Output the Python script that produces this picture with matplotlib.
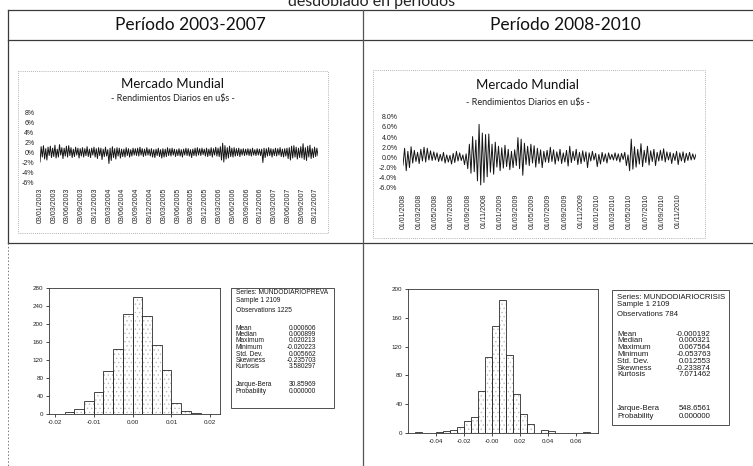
import numpy as np
import matplotlib
matplotlib.use("Agg")
import matplotlib.pyplot as plt
from matplotlib.patches import Rectangle
from matplotlib.ticker import FuncFormatter

W, H = 753, 466
plt.rcParams["hatch.linewidth"] = 0.45

# daily returns in u$s (%), 2003-2007, roughly 12 readings per quarter
ret_pre = [
    -1.9, 1.2, -0.9, 1.4, -1.3, 0.8, -1.5, 1.1, -0.6, 1.3, -1.0, 0.9,
    -0.8, 1.5, -1.1, 0.7, -0.9, 1.6, -0.5, 1.0, -1.2, 0.9, -0.7, 1.3,
    -0.9, 1.4, -0.6, 1.0, -1.0, 0.7, -0.8, 1.1, -0.5, 0.9, -1.1, 0.8,
    -0.7, 1.0, -0.9, 0.8, -0.6, 1.2, -0.8, 0.7, -1.0, 0.9, -0.5, 1.1,
    -0.9, 0.8, -1.2, 1.0, -0.6, 0.9, -1.4, 0.7, -0.8, 1.1, -0.7, 0.6,
    -2.2, 0.9, -1.6, 1.2, -1.0, 0.8, -1.3, 1.0, -0.7, 0.9, -1.1, 0.7,
    -0.8, 0.7, -0.9, 1.0, -0.6, 0.8, -0.9, 0.6, -0.7, 0.9, -0.5, 0.8,
    -0.6, 0.9, -0.7, 1.1, -0.5, 0.8, -0.8, 0.7, -0.6, 1.0, -0.5, 0.7,
    -0.7, 0.8, -0.9, 0.6, -1.0, 0.7, -0.6, 0.9, -0.8, 0.6, -1.1, 0.8,
    -0.9, 0.7, -0.8, 1.0, -0.6, 0.8, -0.7, 0.9, -0.5, 0.7, -0.8, 0.6,
    -0.6, 0.8, -0.7, 0.6, -0.9, 0.7, -0.5, 0.9, -0.6, 0.8, -0.7, 0.6,
    -1.0, 0.7, -0.6, 0.9, -0.7, 1.0, -0.5, 0.8, -0.6, 0.9, -0.4, 0.7,
    -0.7, 0.9, -0.8, 0.7, -0.6, 1.0, -0.9, 0.8, -0.5, 1.1, -0.7, 0.9,
    -0.8, 1.2, -1.5, 1.9, -1.9, 1.4, -1.3, 1.0, -1.1, 1.3, -0.8, 0.9,
    -0.9, 1.0, -0.7, 0.8, -0.6, 0.9, -0.8, 0.7, -0.5, 0.8, -0.6, 0.7,
    -0.5, 0.8, -0.6, 0.7, -0.7, 0.9, -0.5, 0.6, -0.6, 0.8, -0.5, 0.7,
    -0.6, 0.7, -2.0, 0.9, -1.0, 0.8, -0.7, 1.0, -0.6, 0.8, -0.9, 0.7,
    -0.6, 0.9, -0.7, 0.8, -0.5, 1.0, -0.8, 0.7, -0.9, 0.8, -0.7, 0.9,
    -1.2, 1.0, -1.5, 1.3, -1.1, 1.4, -0.9, 1.1, -1.3, 0.9, -1.0, 1.2,
    -1.1, 1.8, -1.4, 1.0, -1.6, 1.3, -0.9, 1.5, -1.2, 0.8, -1.0, 1.1,
    -0.8, 0.9, -0.6,
]
dates_pre = [
    "03/01/2003", "03/03/2003", "03/06/2003", "03/09/2003", "03/12/2003",
    "03/03/2004", "03/06/2004", "03/09/2004", "03/12/2004", "03/03/2005",
    "03/06/2005", "03/09/2005", "03/12/2005", "03/03/2006", "03/06/2006",
    "03/09/2006", "03/12/2006", "03/03/2007", "03/06/2007", "03/09/2007",
    "03/12/2007",
]

# daily returns in u$s (%), 2008-2010, roughly 10 readings per two months
ret_crisis = [
    -1.5, 1.8, -2.6, 1.2, -2.0, 2.1, -1.1, 1.4, -0.8, 1.0,
    -1.2, 1.6, -0.7, 2.0, -0.9, 1.8, -0.5, 1.3, -0.6, 1.1,
    -0.5, 0.9, -0.8, 0.6, -0.7, 1.0, -1.1, 0.5, -0.9, 0.4,
    -1.3, 0.8, -1.0, 1.2, -0.7, 0.9, -0.6, 0.5, -1.4, 0.7,
    -2.2, 2.6, -3.1, 4.1, -2.8, 3.4, -4.6, 6.5, -5.4, 4.8,
    -4.9, 4.5, -3.8, 4.6, -2.9, 2.6, -3.3, 3.0, -1.9, 2.2,
    -2.6, 1.9, -2.1, 2.4, -1.8, 1.6, -2.4, 1.2, -2.0, 1.5,
    -1.6, 3.9, -2.2, 3.6, -3.5, 2.8, -1.4, 2.2, -1.6, 2.6,
    -1.1, 2.3, -1.9, 1.8, -1.2, 1.5, -2.0, 1.2, -0.9, 1.4,
    -1.0, 2.0, -0.8, 1.5, -1.3, 1.1, -0.7, 1.6, -1.2, 0.9,
    -0.9, 1.4, -1.7, 2.2, -1.0, 1.2, -0.6, 1.6, -1.4, 1.0,
    -1.2, 1.3, -0.8, 1.1, -2.0, 0.9, -0.7, 1.2, -0.5, 0.8,
    -1.8, 0.6, -1.3, 1.0, -0.8, 0.7, -1.1, 0.9, -0.4, 0.6,
    -0.5, 0.9, -0.6, 0.7, -0.9, 0.8, -0.4, 1.0, -1.6, 0.5,
    -2.6, 3.6, -2.3, 2.1, -1.9, 1.6, -1.3, 2.7, -1.8, 1.4,
    -1.0, 2.2, -1.5, 1.3, -0.8, 1.6, -1.6, 1.0, -0.7, 1.4,
    -0.6, 1.7, -0.9, 1.1, -0.5, 1.0, -1.2, 0.8, -0.6, 1.2,
    -1.4, 0.9, -0.7, 1.1, -1.0, 0.8, -0.6, 1.0, -0.5, 0.7, -0.4, 0.6,
]
dates_crisis = [
    "01/01/2008", "01/03/2008", "01/05/2008", "01/07/2008", "01/09/2008",
    "01/11/2008", "01/01/2009", "01/03/2009", "01/05/2009", "01/07/2009",
    "01/09/2009", "01/11/2009", "01/01/2010", "01/03/2010", "01/05/2010",
    "01/07/2010", "01/09/2010", "01/11/2010",
]

# histogram bins (left edge) and counts
hist_pre_lo = [-0.0200, -0.0175, -0.0150, -0.0125, -0.0100, -0.0075, -0.0050,
               -0.0025, 0.0000, 0.0025, 0.0050, 0.0075, 0.0100, 0.0125,
               0.0150, 0.0175]
hist_pre_n = [1, 5, 12, 28, 49, 96, 144, 222, 259, 217, 154, 97, 25, 6, 2, 1]
hist_crisis_lo = [-0.055, -0.050, -0.045, -0.040, -0.035, -0.030, -0.025,
                  -0.020, -0.015, -0.010, -0.005, 0.000, 0.005, 0.010, 0.015,
                  0.020, 0.025, 0.030, 0.035, 0.040, 0.045, 0.050, 0.055,
                  0.060, 0.065]
hist_crisis_n = [1, 0, 0, 2, 3, 4, 8, 16, 22, 58, 105, 148, 185, 108, 54,
                 27, 13, 0, 4, 3, 0, 0, 0, 0, 1]

stat_names = ["Mean", "Median", "Maximum", "Minimum", "Std. Dev.",
              "Skewness", "Kurtosis"]
stats_pre = ["0.000606", "0.000899", "0.020213", "-0.020223", "0.005662",
             "-0.235703", "3.580297"]
jb_pre = ["30.85969", "0.000000"]
stats_crisis = ["-0.000192", "0.000321", "0.067564", "-0.053763", "0.012553",
                "-0.233874", "7.071462"]
jb_crisis = ["548.6561", "0.000000"]


def px_axes(x0, y0, x1, y1, **kw):
    return fig.add_axes([x0 / W, 1 - y1 / H, (x1 - x0) / W, (y1 - y0) / H], **kw)


fig = plt.figure(figsize=(W / 100, H / 100), dpi=100)
ov = fig.add_axes([0, 0, 1, 1], zorder=0)
ov.set_xlim(0, W)
ov.set_ylim(H, 0)
ov.axis("off")

# ---- table frame -----------------------------------------------------------
ov.text(372, 6, "desdoblado en períodos", ha="center", va="baseline",
        fontsize=11.5, family="Lato", color="#222")
for y in (10, 40, 243):
    ov.plot([8, W], [y, y], color="#3a3a3a", lw=0.9)
ov.plot([8, 8], [10, 243], color="#3a3a3a", lw=0.9)
ov.plot([8, 8], [243, H], color="#777", lw=0.7, ls=(0, (1.5, 2)))
ov.plot([363, 363], [10, H], color="#555", lw=0.9)
ov.text(190, 25, "Período 2003-2007", ha="center", va="center",
        fontsize=12.5, family="Lato", color="#111")
ov.text(565, 25, "Período 2008-2010", ha="center", va="center",
        fontsize=12.5, family="Lato", color="#111")

# chart area borders (Excel)
ov.add_patch(Rectangle((18, 71), 310, 162, fill=False, ec="#9a9a9a", lw=0.6,
                       ls=(0, (1, 1.5))))
ov.add_patch(Rectangle((373, 70), 332, 168, fill=False, ec="#9a9a9a", lw=0.6,
                       ls=(0, (1, 1.5))))


def returns_panel(box, values, dates, step, fmt, title_xy, sub_y):
    ax = px_axes(*box, zorder=1)
    ax.set_facecolor("none")
    x = np.arange(len(values))
    ax.plot(x, np.array(values) / 100, color="#151515", lw=0.7)
    ax.set_xlim(0, len(values) - 1)
    ax.set_ylim(-0.06, 0.08)
    ax.set_yticks(np.arange(-0.06, 0.081, 0.02))
    ax.yaxis.set_major_formatter(FuncFormatter(lambda v, _: fmt.format(v * 100)))
    ax.set_xticks(x[::step][:len(dates)])
    ax.set_xticklabels(dates, rotation=90)
    for s in ax.spines.values():
        s.set_visible(False)
    ax.tick_params(length=0, labelsize=5, pad=4, labelcolor="#222")
    for lab in ax.get_xticklabels() + ax.get_yticklabels():
        lab.set_family("Liberation Sans")
    ov.text(title_xy[0], title_xy[1], "Mercado Mundial", ha="center",
            va="center", fontsize=9.5, family="Lato", color="#111")
    ov.text(title_xy[0], sub_y, "- Rendimientos Diarios en u$s -",
            ha="center", va="center", fontsize=6.5, family="Lato",
            color="#222")
    return ax


returns_panel((40, 113, 318, 182.3), ret_pre, dates_pre, 12, "{:.0f}%",
              (173, 84), 98)
returns_panel((403, 116.7, 696, 188), ret_crisis, dates_crisis, 10,
              "{:.1f}%", (528, 85), 102.5)


def hist_panel(box, lo, counts, width, xlim, ylim, yt, xt, xtl):
    ax = px_axes(*box, zorder=1)
    ax.bar(lo, counts, width=width, align="edge", color="white",
           edgecolor="#b8b8b8", hatch="....", lw=0)
    ax.bar(lo, counts, width=width, align="edge", fill=False,
           edgecolor="#2a2a2a", lw=0.6)
    ax.set_xlim(*xlim)
    ax.set_ylim(*ylim)
    ax.set_yticks(yt)
    ax.set_xticks(xt)
    ax.set_xticklabels(xtl)
    for s in ax.spines.values():
        s.set_color("#333")
        s.set_linewidth(0.6)
    ax.tick_params(length=2, width=0.5, labelsize=4.5, pad=2,
                   labelcolor="#222")
    for lab in ax.get_xticklabels() + ax.get_yticklabels():
        lab.set_family("Liberation Sans")
    return ax


hist_panel((49, 288, 220, 414), hist_pre_lo, hist_pre_n, 0.0025,
           (-0.0215, 0.0225), (0, 280), range(0, 281, 40),
           [-0.02, -0.01, 0.0, 0.01, 0.02],
           ["-0.02", "-0.01", "0.00", "0.01", "0.02"])
hist_panel((408, 289, 598, 433), hist_crisis_lo, hist_crisis_n, 0.005,
           (-0.06, 0.076), (0, 200), range(0, 201, 40),
           [-0.04, -0.02, 0.0, 0.02, 0.04, 0.06],
           ["-0.04", "-0.02", "-0.00", "0.02", "0.04", "0.06"])


def stats_box(rect, header_y, head, row_y, jb_y, vals, jb, val_x, fs):
    x0, y0, x1, y1 = rect
    ov.add_patch(Rectangle((x0, y0), x1 - x0, y1 - y0, fill=False,
                           ec="#333", lw=0.6))
    tx = x0 + 5
    kw = dict(fontsize=fs, family="Liberation Sans", color="#1a1a1a",
              va="center")
    for y, t in zip(header_y, head):
        ov.text(tx, y, t, ha="left", **kw)
    for y, name, v in zip(row_y, stat_names, vals):
        ov.text(tx, y, name, ha="left", **kw)
        ov.text(val_x, y, v, ha="right", **kw)
    for y, name, v in zip(jb_y, ["Jarque-Bera", "Probability"], jb):
        ov.text(tx, y, name, ha="left", **kw)
        ov.text(val_x, y, v, ha="right", **kw)


stats_box((231, 288, 334, 408), [292.7, 301, 310.5],
          ["Series: MUNDODIARIOPREVA", "Sample 1 2109", "Observations 1225"],
          [328, 334.7, 341, 347.5, 354, 360.5, 367], [385, 391.5],
          stats_pre, jb_pre, 316, 4.8)
stats_box((612, 290, 729, 425), [297.3, 305, 314],
          ["Series: MUNDODIARIOCRISIS", "Sample 1 2109", "Observations 784"],
          [334.3, 341, 347.7, 354.3, 361.3, 368, 374.7], [408.3, 416.7],
          stats_crisis, jb_crisis, 711, 5.6)

fig.savefig("out.png", dpi=100)
